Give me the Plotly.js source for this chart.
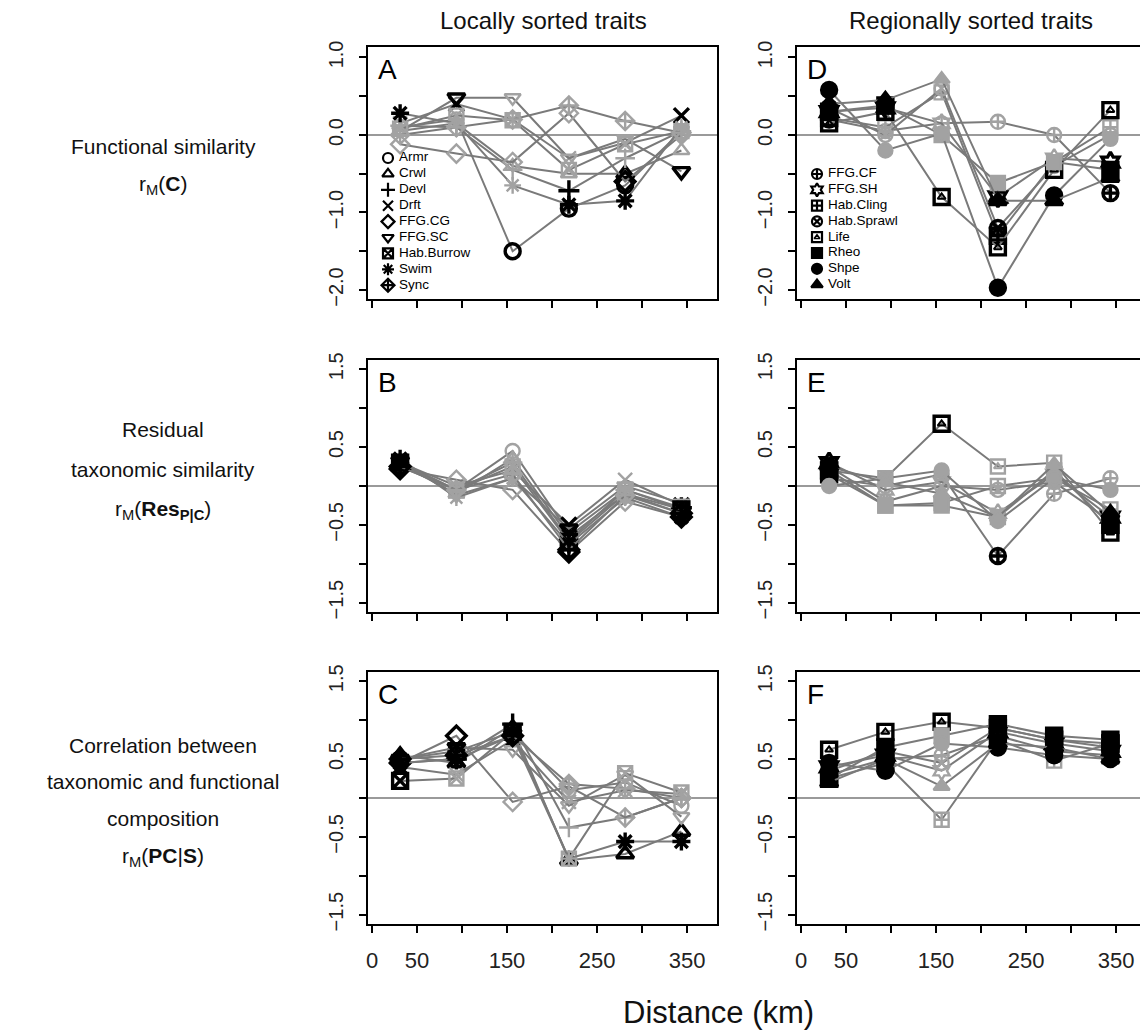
<!DOCTYPE html>
<html>
<head>
<meta charset="utf-8">
<script src="https://cdn.plot.ly/plotly-3.0.1.min.js"></script>
<style>
html, body { margin: 0; padding: 0; overflow: hidden; background: #fff; }
#chart { width: 1150px; height: 1032px; }
</style>
</head>
<body>
<div id="chart"></div>
<script>
// ---------------- DATA ----------------
const distances = [31.25, 93.75, 156.25, 218.75, 281.25, 343.75];
const localTraits = ['Armr', 'Crwl', 'Devl', 'Drft', 'FFG.CG', 'FFG.SC', 'Hab.Burrow', 'Swim', 'Sync'];
const regionalTraits = ['FFG.CF', 'FFG.SH', 'Hab.Cling', 'Hab.Sprawl', 'Life', 'Rheo', 'Shpe', 'Volt'];

// Panel A: functional similarity, locally sorted traits (rows follow localTraits)
const valuesA = [
  [0.10, 0.20, -1.50, -0.95, -0.65, 0.05],
  [0.05, 0.15, -0.40, -0.50, -0.50, -0.20],
  [0.12, 0.10, -0.45, -0.72, -0.30, 0.05],
  [0.15, 0.40, 0.20, -0.30, -0.10, 0.25],
  [-0.12, -0.24, -0.35, 0.28, -0.60, 0.00],
  [0.05, 0.48, 0.48, -0.30, -0.05, -0.47],
  [0.08, 0.25, 0.19, -0.45, -0.12, 0.05],
  [0.28, 0.15, -0.65, -0.90, -0.85, 0.10],
  [0.00, 0.10, 0.20, 0.38, 0.18, 0.03]
];
const signifA = [
  [0, 0, 1, 1, 1, 0],
  [0, 0, 0, 0, 1, 0],
  [0, 0, 0, 1, 0, 0],
  [0, 1, 0, 0, 0, 1],
  [0, 0, 0, 0, 1, 0],
  [0, 1, 0, 0, 0, 1],
  [0, 0, 0, 0, 0, 0],
  [1, 0, 0, 1, 1, 0],
  [0, 0, 0, 0, 0, 0]
];

// Panel B: residual taxonomic similarity, locally sorted traits
const valuesB = [
  [0.30, -0.05, 0.45, -0.60, -0.05, -0.30],
  [0.28, -0.10, 0.35, -0.65, -0.10, -0.35],
  [0.25, -0.05, 0.30, -0.70, -0.05, -0.28],
  [0.30, 0.00, 0.20, -0.50, 0.08, -0.25],
  [0.22, 0.08, -0.05, -0.85, -0.20, -0.40],
  [0.32, -0.12, 0.10, -0.55, 0.00, -0.22],
  [0.30, -0.05, 0.25, -0.72, -0.10, -0.30],
  [0.35, -0.15, 0.10, -0.75, -0.15, -0.40],
  [0.25, -0.05, 0.15, -0.82, -0.12, -0.35]
];
const signifB = [
  [1, 0, 0, 1, 0, 1],
  [1, 0, 0, 1, 0, 1],
  [1, 0, 0, 1, 0, 1],
  [1, 0, 0, 1, 0, 1],
  [1, 0, 0, 1, 0, 1],
  [1, 0, 0, 1, 0, 0],
  [1, 0, 0, 1, 0, 1],
  [1, 0, 0, 1, 0, 1],
  [1, 0, 0, 1, 0, 1]
];

// Panel C: correlation between taxonomic and functional composition, locally sorted traits
const valuesC = [
  [0.50, 0.60, 0.85, 0.10, 0.20, -0.10],
  [0.55, 0.45, 0.90, -0.80, -0.72, -0.43],
  [0.45, 0.50, 0.95, -0.38, -0.25, 0.00],
  [0.40, 0.30, 0.75, -0.05, 0.10, 0.05],
  [0.45, 0.80, -0.05, 0.15, -0.25, 0.00],
  [0.50, 0.65, 0.62, -0.10, 0.30, -0.24],
  [0.22, 0.25, 0.85, -0.78, 0.32, 0.07],
  [0.45, 0.50, 0.80, -0.78, -0.56, -0.56],
  [0.50, 0.55, 0.80, 0.18, 0.12, 0.00]
];
const signifC = [
  [1, 1, 1, 0, 0, 0],
  [1, 1, 1, 1, 1, 1],
  [1, 1, 1, 0, 0, 0],
  [1, 0, 1, 0, 0, 0],
  [1, 1, 0, 0, 0, 0],
  [1, 1, 0, 0, 0, 0],
  [1, 0, 1, 0, 0, 0],
  [1, 1, 1, 0, 1, 1],
  [1, 1, 1, 0, 0, 0]
];

// Panel D: functional similarity, regionally sorted traits (rows follow regionalTraits)
const valuesD = [
  [0.20, 0.05, 0.15, 0.17, 0.00, -0.75],
  [0.30, 0.35, 0.15, -0.80, -0.30, -0.35],
  [0.22, 0.10, 0.55, -1.30, -0.35, 0.10],
  [0.35, 0.00, 0.60, -1.20, -0.40, 0.00],
  [0.15, 0.30, -0.80, -1.45, -0.45, 0.32],
  [0.30, 0.38, 0.00, -0.62, -0.35, -0.45],
  [0.58, -0.20, 0.02, -1.97, -0.78, -0.05],
  [0.40, 0.45, 0.72, -0.85, -0.85, -0.55]
];
const signifD = [
  [1, 0, 0, 0, 0, 1],
  [1, 1, 0, 1, 0, 1],
  [1, 0, 0, 1, 0, 0],
  [1, 0, 0, 1, 0, 0],
  [1, 1, 1, 1, 1, 1],
  [1, 1, 0, 0, 0, 1],
  [1, 0, 0, 1, 1, 0],
  [1, 1, 0, 1, 1, 1]
];

// Panel E: residual taxonomic similarity, regionally sorted traits
const valuesE = [
  [0.10, 0.00, 0.15, -0.90, -0.10, 0.10],
  [0.30, -0.05, 0.05, -0.35, 0.15, -0.40],
  [0.20, -0.25, -0.22, 0.00, 0.10, -0.30],
  [0.25, -0.20, 0.00, -0.05, 0.05, -0.45],
  [0.20, 0.10, 0.80, 0.25, 0.30, -0.60],
  [0.15, -0.25, -0.25, -0.40, 0.20, -0.50],
  [0.00, 0.10, 0.20, -0.45, 0.10, -0.05],
  [0.25, 0.05, -0.10, -0.40, 0.28, -0.35]
];
const signifE = [
  [1, 0, 0, 1, 0, 0],
  [1, 0, 0, 0, 0, 1],
  [1, 0, 0, 0, 0, 0],
  [1, 0, 0, 0, 0, 1],
  [1, 0, 1, 0, 0, 1],
  [1, 0, 0, 0, 0, 1],
  [0, 0, 0, 0, 0, 0],
  [1, 0, 0, 0, 0, 1]
];

// Panel F: correlation between taxonomic and functional composition, regionally sorted traits
const valuesF = [
  [0.30, 0.50, 0.55, 0.80, 0.60, 0.55],
  [0.40, 0.55, 0.35, 0.85, 0.70, 0.60],
  [0.25, 0.45, -0.28, 0.75, 0.48, 0.70],
  [0.35, 0.60, 0.45, 0.90, 0.75, 0.65],
  [0.62, 0.85, 0.98, 0.90, 0.75, 0.70],
  [0.25, 0.65, 0.80, 0.95, 0.80, 0.75],
  [0.45, 0.35, 0.70, 0.65, 0.55, 0.50],
  [0.20, 0.50, 0.15, 0.70, 0.65, 0.50]
];
const signifF = [
  [1, 1, 0, 1, 1, 1],
  [1, 1, 0, 1, 1, 1],
  [1, 1, 0, 1, 0, 1],
  [1, 1, 0, 1, 1, 1],
  [1, 1, 1, 1, 1, 1],
  [1, 1, 0, 1, 1, 1],
  [1, 1, 0, 1, 1, 1],
  [1, 1, 0, 1, 1, 1]
];

const xTickVals = [0, 50, 150, 250, 350];
const xTickText = ['0', '50', '150', '250', '350'];
const yTickValsTop = [-2, -1, 0, 1];
const yTickTextTop = ['\u22122.0', '\u22121.0', '0.0', '1.0'];
const yTickValsLow = [-1.5, -0.5, 0.5, 1.5];
const yTickTextLow = ['\u22121.5', '\u22120.5', '0.5', '1.5'];

// ---------------- STYLE ----------------
const localSymbols = ['circle-open', 'triangle-up-open', 'cross-thin-open', 'x-thin-open', 'diamond-open',
  'triangle-down-open', 'square-x-open', 'asterisk-open', 'diamond-cross-open'];
const regionalSymbols = ['circle-cross-open', 'hexagram-open', 'square-cross-open', 'circle-x-open',
  'square-open', 'square', 'circle', 'triangle-up'];
// second glyph drawn inside some symbols (R pch 14: square with triangle)
const regionalInner = [null, null, null, null, 'triangle-up-open', null, null, null];
const localInner = localTraits.map(() => null);

const FONT = 'Liberation Sans, Arial, Helvetica, sans-serif';
const LINE_GRAY = '#7a7a7a';
const MARK_GRAY = '#a2a2a2';
const W = 1150, H = 1032;
const colX = [[368, 717], [797, 1146]];
const rowY = [[47, 299], [360, 612], [672, 924]];

function px2x(a, b) { return [a / W, b / W]; }
function px2y(top, bot) { return [(H - bot) / H, (H - top) / H]; }

function panelTraces(values, signif, traits, symbols, inner, xa, ya) {
  const out = [];
  traits.forEach((t, i) => {
    const cols = signif[i].map(s => s ? '#000000' : MARK_GRAY);
    out.push({
      type: 'scatter', mode: 'lines+markers', name: t,
      x: distances, y: values[i], xaxis: xa, yaxis: ya, showlegend: false,
      line: { color: LINE_GRAY, width: 2 },
      marker: {
        symbol: symbols[i], opacity: 1,
        size: signif[i].map(s => s ? 15 : 14),
        color: cols,
        line: { color: cols, width: signif[i].map(s => s ? 3.4 : 2.4) }
      },
      hoverinfo: 'x+y+name'
    });
    if (inner[i]) {
      out.push({
        type: 'scatter', mode: 'markers', name: t, hoverinfo: 'skip',
        x: distances, y: values[i], xaxis: xa, yaxis: ya, showlegend: false,
        marker: { symbol: inner[i], opacity: 1, size: 7, color: cols, line: { color: cols, width: 2 } }
      });
    }
  });
  return out;
}

function legendTraces(traits, symbols, inner, xa, ya, topFrac, stepFrac) {
  const ys = traits.map((t, i) => topFrac - i * stepFrac);
  const out = [{
    type: 'scatter', mode: 'markers+text', xaxis: xa, yaxis: ya, showlegend: false, hoverinfo: 'skip',
    x: traits.map(() => 0.0573), y: ys,
    text: traits.map(t => '\u00a0' + t), textposition: 'middle right',
    textfont: { family: FONT, size: 13.5, color: '#000' },
    marker: { symbol: symbols, opacity: 1, size: 10, color: '#000', line: { color: '#000', width: 2.2 } }
  }];
  const idx = inner.map((s, i) => s ? i : -1).filter(i => i >= 0);
  if (idx.length) {
    out.push({
      type: 'scatter', mode: 'markers', xaxis: xa, yaxis: ya, showlegend: false, hoverinfo: 'skip',
      x: idx.map(() => 0.0573), y: idx.map(i => ys[i]),
      marker: { symbol: idx.map(i => inner[i]), opacity: 1, size: 5, color: '#000', line: { color: '#000', width: 1.5 } }
    });
  }
  return out;
}

const traces = [].concat(
  panelTraces(valuesA, signifA, localTraits, localSymbols, localInner, 'x', 'y'),
  panelTraces(valuesD, signifD, regionalTraits, regionalSymbols, regionalInner, 'x2', 'y2'),
  panelTraces(valuesB, signifB, localTraits, localSymbols, localInner, 'x3', 'y3'),
  panelTraces(valuesE, signifE, regionalTraits, regionalSymbols, regionalInner, 'x4', 'y4'),
  panelTraces(valuesC, signifC, localTraits, localSymbols, localInner, 'x5', 'y5'),
  panelTraces(valuesF, signifF, regionalTraits, regionalSymbols, regionalInner, 'x6', 'y6'),
  legendTraces(localTraits, localSymbols, localInner, 'x7', 'y7', (299 - 158) / 252, 15.9 / 252),
  legendTraces(regionalTraits, regionalSymbols, regionalInner, 'x8', 'y8', (299 - 174) / 252, 15.8 / 252)
);

function xAxis(col, row, anchor) {
  return {
    domain: px2x(colX[col][0], colX[col][1]), anchor: anchor,
    range: [-4.44, 383.3], zeroline: false, showgrid: false,
    showline: true, mirror: true, linecolor: '#000', linewidth: 2,
    ticks: 'outside', ticklen: 7, tickwidth: 2, tickcolor: '#000',
    tickmode: 'array', tickvals: xTickVals, ticktext: xTickText, showticklabels: row === 2,
    minor: { tickmode: 'linear', tick0: 0, dtick: 50, ticks: 'outside', ticklen: 7, tickwidth: 2, tickcolor: '#000', showgrid: false },
    tickfont: { family: FONT, size: 22, color: '#222' }, ticklabelstandoff: 9
  };
}
function yAxis(col, row, anchor) {
  const top = row === 0;
  return {
    domain: px2y(rowY[row][0], rowY[row][1]), anchor: anchor,
    range: top ? [-2.116, 1.135] : [-1.62, 1.62],
    zeroline: true, zerolinecolor: '#9a9a9a', zerolinewidth: 2, showgrid: false,
    showline: true, mirror: true, linecolor: '#000', linewidth: 2,
    ticks: 'outside', ticklen: 7, tickwidth: 2, tickcolor: '#000',
    tickmode: 'array', tickvals: top ? yTickValsTop : yTickValsLow, ticktext: top ? yTickTextTop : yTickTextLow,
    minor: { tickmode: 'linear', tick0: 0, dtick: 0.5, ticks: 'outside', ticklen: 7, tickwidth: 2, tickcolor: '#000', showgrid: false },
    tickangle: -90, tickfont: { family: FONT, size: 20, color: '#222' }, ticklabelstandoff: 8
  };
}
function overlayAxis(base, isX, anchor) {
  return { overlaying: base, anchor: anchor, range: [0, 1], visible: false, fixedrange: true };
}

const letters = ['A', 'D', 'B', 'E', 'C', 'F'];
const letterAxes = ['', '2', '3', '4', '5', '6'];
const annotations = letters.map((l, i) => ({
  text: l, xref: 'x' + letterAxes[i] + ' domain', yref: 'y' + letterAxes[i] + ' domain',
  x: 0.024, y: 0.909, xanchor: 'left', yanchor: 'middle', showarrow: false,
  font: { family: FONT, size: 28, color: '#000' }
}));

function textNote(text, xpx, ypx, size) {
  return { text: text, xref: 'paper', yref: 'paper', x: xpx / W, y: (H - ypx) / H,
    xanchor: 'center', yanchor: 'middle', showarrow: false,
    font: { family: FONT, size: size, color: '#111' } };
}
annotations.push(
  textNote('Locally sorted traits', 543, 20, 24),
  textNote('Regionally sorted traits', 971, 20, 24),
  textNote('Functional similarity', 163, 146, 21),
  textNote('r<sub>M</sub>(<b>C</b>)', 163, 185, 21),
  textNote('Residual', 163, 430, 21),
  textNote('taxonomic similarity', 163, 469, 21),
  textNote('r<sub>M</sub>(<b>Res<sub>P|C</sub></b>)', 163, 510, 21),
  textNote('Correlation between', 163, 745, 21),
  textNote('taxonomic and functional', 163, 781, 21),
  textNote('composition', 163, 818, 21),
  textNote('r<sub>M</sub>(<b>PC</b>|<b>S</b>)', 163, 857, 21),
  textNote('Distance (km)', 718, 1012, 31)
);

const layout = {
  width: W, height: H, margin: { l: 0, r: 0, t: 0, b: 0 },
  paper_bgcolor: '#fff', plot_bgcolor: '#fff', showlegend: false,
  font: { family: FONT },
  xaxis: xAxis(0, 0, 'y'), yaxis: yAxis(0, 0, 'x'),
  xaxis2: xAxis(1, 0, 'y2'), yaxis2: yAxis(1, 0, 'x2'),
  xaxis3: xAxis(0, 1, 'y3'), yaxis3: yAxis(0, 1, 'x3'),
  xaxis4: xAxis(1, 1, 'y4'), yaxis4: yAxis(1, 1, 'x4'),
  xaxis5: xAxis(0, 2, 'y5'), yaxis5: yAxis(0, 2, 'x5'),
  xaxis6: xAxis(1, 2, 'y6'), yaxis6: yAxis(1, 2, 'x6'),
  xaxis7: overlayAxis('x', true, 'y7'), yaxis7: overlayAxis('y', false, 'x7'),
  xaxis8: overlayAxis('x2', true, 'y8'), yaxis8: overlayAxis('y2', false, 'x8'),
  annotations: annotations
};

Plotly.newPlot('chart', traces, layout, { displayModeBar: false, staticPlot: true });
</script>
</body>
</html>
